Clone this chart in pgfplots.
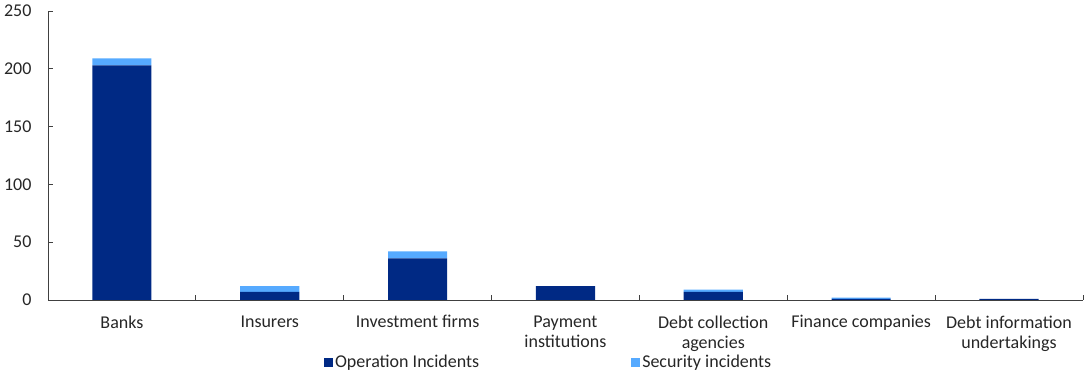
\documentclass[border=0pt]{standalone}
\usepackage{pgfplots}
\pgfplotsset{compat=1.18}
\usepackage{fontspec}
\setmainfont{Carlito}
\definecolor{opsblue}{RGB}{0,41,132}
\definecolor{secblue}{RGB}{86,170,255}
\definecolor{axgray}{RGB}{64,64,64}
\definecolor{txtgray}{RGB}{38,38,38}
\begin{document}
\begin{tikzpicture}[x=1pt,y=1pt]
\path[use as bounding box] (0,0) rectangle (1086pt,371pt);
\begin{axis}[
  at={(48pt,71pt)}, anchor=south west,
  scale only axis,
  width=1035pt, height=289pt,
  ybar stacked, bar width=0.4,
  xmin=-0.5, xmax=6.5, ymin=0, ymax=250,
  axis lines=left,
  axis line style={-, draw=axgray, line width=0.8pt},
  ytick={0,50,...,250},
  xtick={0.5,1.5,...,6.5},
  xticklabels={},
  extra x ticks={0,1,2,3,4,5,6},
  extra x tick labels={Banks,Insurers,Investment firms,Payment\\institutions,Debt collection\\agencies,Finance companies,Debt information\\undertakings},
  extra x tick style={major tick length=0pt},
  tick align=inside,
  major tick length=5pt,
  tick style={draw=axgray, line width=0.8pt},
  /pgf/number format/assume math mode=true,
  tick label style={font=\fontsize{18}{20}\selectfont, text=txtgray},
  xticklabel style={align=center, yshift=-12pt},
  yticklabel style={xshift=-13pt},
  legend style={at={(0.2667,-0.215)}, anchor=west, draw=none, fill=none,
    inner sep=0pt, outer sep=0pt, legend columns=2,
    font=\fontsize{18}{20}\selectfont, text=txtgray,
    /tikz/every even column/.append style={column sep=150pt}},
  legend image code/.code={\fill[#1] (0pt,-4.5pt) rectangle (9pt,4.5pt);},
  clip=false,
]
\addplot[fill=opsblue, draw=none] coordinates {(0,203) (1,7) (2,36) (3,12) (4,7) (5,1) (6,1)};
\addplot[fill=secblue, draw=none] coordinates {(0,6) (1,5) (2,6) (3,0) (4,2) (5,1) (6,0)};
\legend{Operation Incidents, Security incidents}
\end{axis}
\end{tikzpicture}
\end{document}
